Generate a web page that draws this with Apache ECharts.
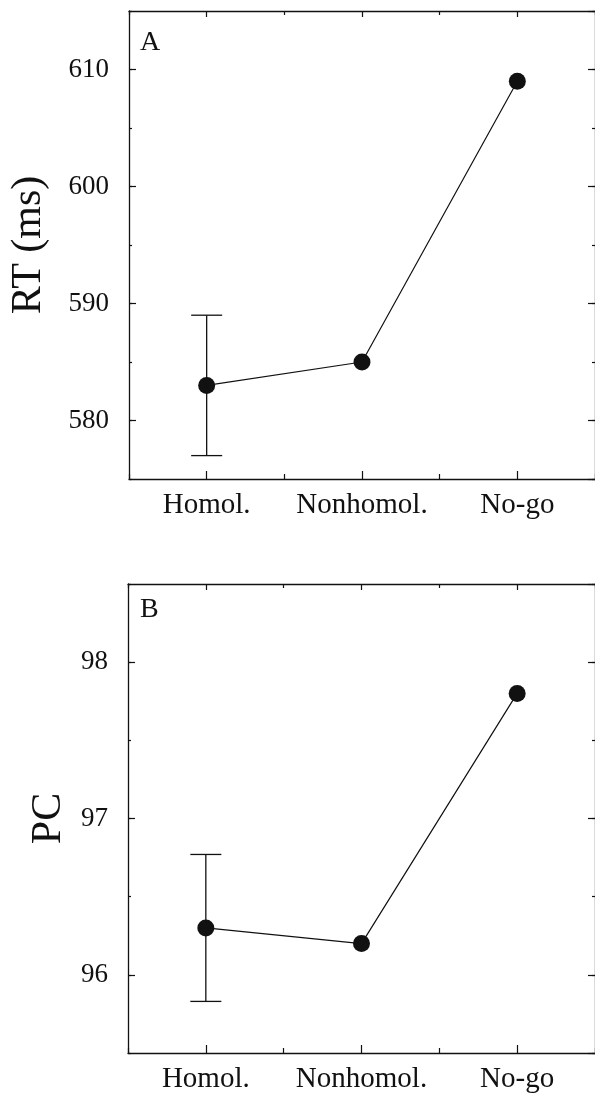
<!DOCTYPE html>
<html>
<head>
<meta charset="utf-8">
<script src="https://cdn.jsdelivr.net/npm/echarts@6/dist/echarts.min.js"></script>
<style>
  html, body { margin: 0; padding: 0; background: #fff; }
  #chart { width: 595px; height: 1098px; }
</style>
</head>
<body>
<div id="chart"></div>
<script>
// conditions on the x axis
const categories = ["Homol.", "Nonhomol.", "No-go"];

// panel A: reaction time (ms)
const rtMean = [583, 585, 609];
const rtLow = [577, null, null];
const rtHigh = [589, null, null];

// panel B: percent correct
const pcMean = [96.3, 96.2, 97.8];
const pcLow = [95.83, null, null];
const pcHigh = [96.77, null, null];

const FONT = "Liberation Serif";
const INK = "#111";

// axes for one panel, every panel has its own set
function xAxesFor(grid) {
  const base = {
    type: "category",
    data: categories,
    gridIndex: grid,
    boundaryGap: true,
    axisLine: { show: true, lineStyle: { color: INK, width: 1.3 } },
    axisLabel: { show: false },
    splitLine: { show: false },
  };
  return [
    // bottom, labels + ticks at the middle of each condition
    Object.assign({}, base, {
      position: "bottom",
      axisTick: { show: true, inside: true, alignWithLabel: true, length: 8, lineStyle: { color: INK, width: 1.2 } },
      axisLabel: { show: true, interval: 0, fontFamily: FONT, fontSize: 29, color: INK, margin: 12 },
    }),
    // bottom, short ticks between conditions
    Object.assign({}, base, {
      position: "bottom",
      axisLine: { show: false },
      axisTick: { show: true, inside: true, length: 5, lineStyle: { color: INK, width: 1.2 } },
    }),
    // top frame
    Object.assign({}, base, {
      position: "top",
      axisTick: { show: true, inside: true, alignWithLabel: true, length: 6, lineStyle: { color: INK, width: 1.2 } },
    }),
    Object.assign({}, base, {
      position: "top",
      axisLine: { show: false },
      axisTick: { show: true, inside: true, length: 4, lineStyle: { color: INK, width: 1.2 } },
    }),
  ];
}

function yAxesFor(grid, min, max, minorStep, splitNumber, name, nameGap, digits) {
  const base = {
    type: "value",
    gridIndex: grid,
    min: min,
    max: max,
    splitLine: { show: false },
    axisLabel: { show: false },
    axisLine: { show: true, lineStyle: { color: INK, width: 1.3 } },
  };
  const major = {
    splitNumber: splitNumber,
    axisTick: { show: true, inside: true, length: 7, lineStyle: { color: INK, width: 1.2 } },
  };
  const minor = {
    interval: minorStep,
    axisLine: { show: false },
    axisTick: { show: true, inside: true, length: 3, lineStyle: { color: INK, width: 1.2 } },
  };
  return [
    Object.assign({}, base, major, {
      position: "left",
      name: name,
      nameLocation: "middle",
      nameGap: nameGap,
      nameTextStyle: { fontFamily: FONT, fontSize: 42, color: INK },
      axisLabel: {
        show: true,
        showMinLabel: false,
        showMaxLabel: false,
        fontFamily: FONT,
        fontSize: 27,
        color: INK,
        margin: 20,
        formatter: (v) => v.toFixed(digits),
      },
    }),
    Object.assign({}, base, minor, { position: "left" }),
    Object.assign({}, base, major, { position: "right" }),
    Object.assign({}, base, minor, { position: "right" }),
  ];
}

// error bar drawn through the axes of its panel
function errorBar(xIdx, yIdx, low, high) {
  const rows = [];
  low.forEach((v, i) => {
    if (v !== null && high[i] !== null) rows.push([i, v, high[i]]);
  });
  return {
    type: "custom",
    xAxisIndex: xIdx,
    yAxisIndex: yIdx,
    data: rows,
    z: 1,
    renderItem: function (params, api) {
      const x = api.value(0);
      const lo = api.coord([x, api.value(1)]);
      const hi = api.coord([x, api.value(2)]);
      const half = 15.5;
      const style = { stroke: INK, lineWidth: 1.3 };
      return {
        type: "group",
        children: [
          { type: "line", shape: { x1: lo[0], y1: lo[1], x2: hi[0], y2: hi[1] }, style: style },
          { type: "line", shape: { x1: lo[0] - half, y1: lo[1], x2: lo[0] + half, y2: lo[1] }, style: style },
          { type: "line", shape: { x1: hi[0] - half, y1: hi[1], x2: hi[0] + half, y2: hi[1] }, style: style },
        ],
      };
    },
  };
}

function meanLine(xIdx, yIdx, values) {
  return {
    type: "line",
    xAxisIndex: xIdx,
    yAxisIndex: yIdx,
    data: values,
    symbol: "circle",
    symbolSize: 17,
    itemStyle: { color: INK },
    lineStyle: { color: INK, width: 1.2 },
    z: 3,
    silent: true,
  };
}

const chart = echarts.init(document.getElementById("chart"), null, { renderer: "canvas" });

chart.setOption({
  backgroundColor: "#fff",
  animation: false,
  grid: [
    { left: 128, top: 11, width: 470, height: 468 },
    { left: 128, top: 584, width: 470, height: 469 },
  ],
  xAxis: xAxesFor(0).concat(xAxesFor(1)),
  yAxis: yAxesFor(0, 575, 615, 5, 4, "RT (ms)", 79, 0)
    .concat(yAxesFor(1, 95.5, 98.5, 0.5, 3, "PC", 57, 0)),
  graphic: [
    { type: "text", left: 140, top: 29, style: { text: "A", font: "28px 'Liberation Serif'", fill: INK } },
    { type: "text", left: 140, top: 596, style: { text: "B", font: "28px 'Liberation Serif'", fill: INK } },
  ],
  series: [
    errorBar(0, 0, rtLow, rtHigh),
    meanLine(0, 0, rtMean),
    errorBar(4, 4, pcLow, pcHigh),
    meanLine(4, 4, pcMean),
  ],
});
</script>
</body>
</html>
